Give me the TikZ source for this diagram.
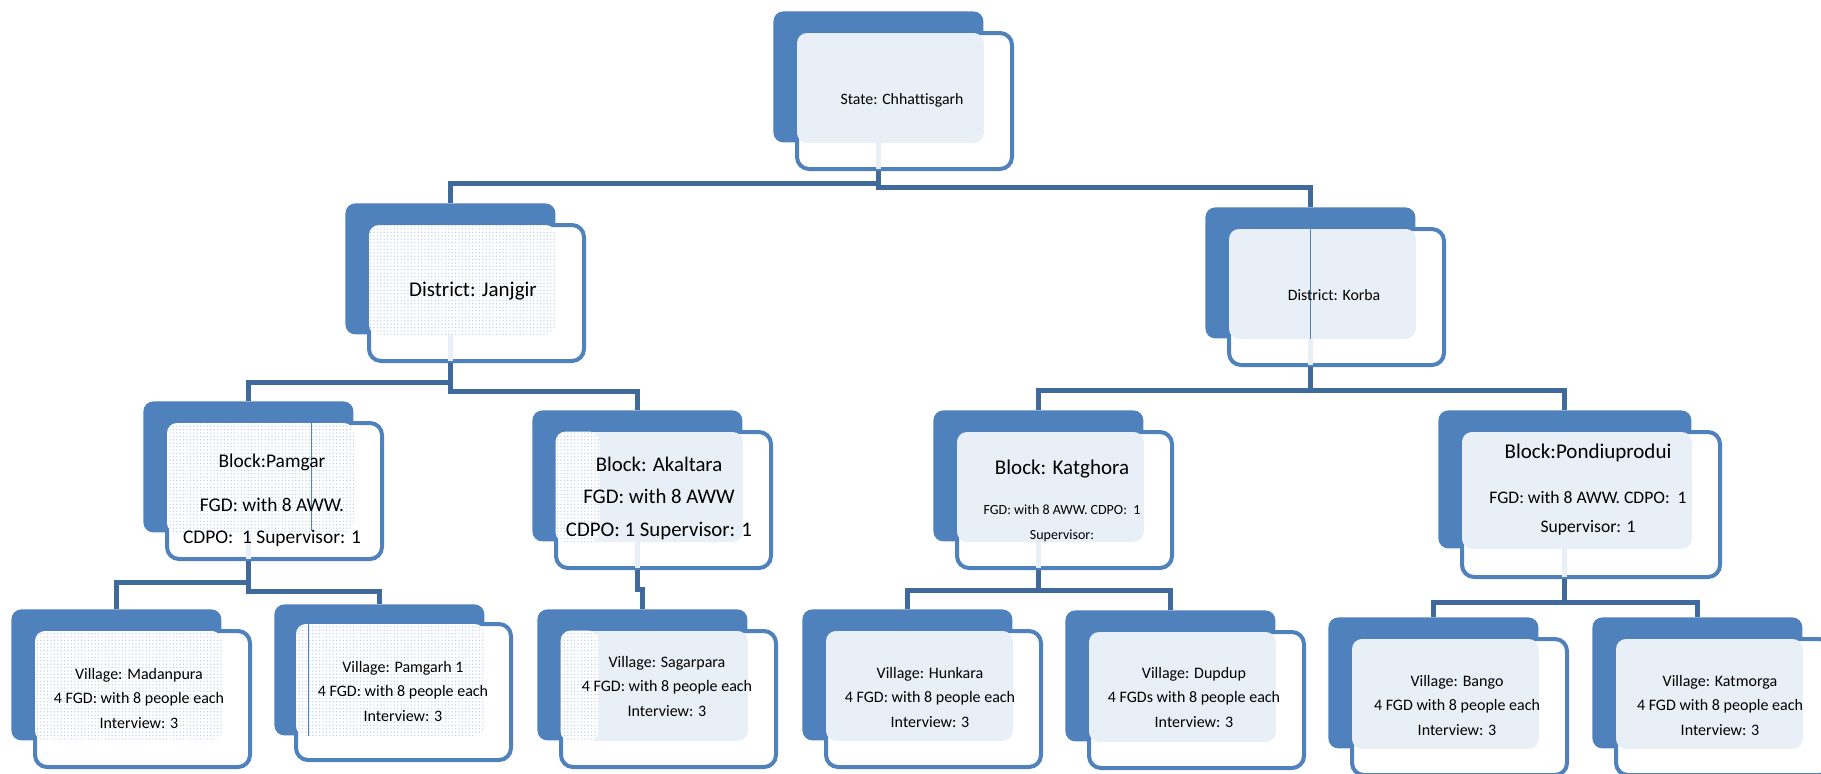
\documentclass[tikz,border=0pt]{standalone}
\usepackage{fontspec}
\setmainfont{Carlito}[Ligatures=NoCommon]
\usetikzlibrary{positioning,fit,patterns.meta}
\definecolor{orgblue}{HTML}{4F81BD}
\definecolor{linkblue}{HTML}{3F6A9B}
\definecolor{paleblue}{HTML}{E9EFF7}
\definecolor{dotblue}{HTML}{BDD0E8}
\tikzdeclarepattern{name=griddots, type=uncolored,
  bounding box={(-0.9pt,-0.9pt) and (0.9pt,0.9pt)}, tile size={(1.7pt,1.7pt)},
  code={\fill (0pt,0pt) circle (0.36pt);}}
\begin{document}
\begin{tikzpicture}[x=0.5pt, y=-0.5pt,
	backbox/.style={fill=orgblue, rounded corners=5pt, minimum width=105pt, minimum height=65.5pt, inner sep=0pt, anchor=north west},
	frontbox/.style={draw=orgblue, fill=white, line width=2pt, rounded corners=6pt, minimum width=107.5pt, minimum height=68pt, inner sep=0pt},
	palefill/.style={fill=paleblue, rounded corners=5pt, inner sep=0pt},
	dotfill/.style={preaction={fill=white}, pattern=griddots, pattern color=dotblue, rounded corners=5pt, inner sep=0pt},
	link/.style={draw=linkblue, line width=2.5pt},
	stub/.style={draw=paleblue, line width=2.5pt},
	hair/.style={draw=orgblue, line width=0.6pt},
	txt/.style={align=center, inner sep=0pt, text=black},
	village/.style={txt, font=\fontsize{8pt}{12.25pt}\selectfont}]
	\useasboundingbox (0,0) rectangle (1821,773);
	% state
	\node[backbox] (stB) at (773,11) {};
	\node[frontbox, below right=10pt and 11pt of stB.north west] (stF) {};
	\node[palefill, fit={([shift={(1pt,-1pt)}]stF.north west) (stB.south east)}] (stL) {};
	\draw[stub] (stB.south) -- ([yshift=1pt]stB.south |- stF.south);
	% districts
	\node[backbox] (jjB) at (345,203) {};
	\node[frontbox, below right=10pt and 11pt of jjB.north west] (jjF) {};
	\node[dotfill, fit={([shift={(1pt,-1pt)}]jjF.north west) (jjB.south east)}] (jjL) {};
	\draw[stub] (jjB.south) -- ([yshift=1pt]jjB.south |- jjF.south);
	\node[backbox] (kbB) at (1205,207) {};
	\node[frontbox, below right=10pt and 11pt of kbB.north west] (kbF) {};
	\node[palefill, fit={([shift={(1pt,-1pt)}]kbF.north west) (kbB.south east)}] (kbL) {};
	\draw[stub] (kbB.south) -- ([yshift=1pt]kbB.south |- kbF.south);
	\draw[hair] (kbB.center |- kbL.north) -- (kbB.south);
	% blocks
	\node[backbox] (pmB) at (143,401) {};
	\node[frontbox, below right=10pt and 11pt of pmB.north west] (pmF) {};
	\node[dotfill, fit={([shift={(1pt,-1pt)}]pmF.north west) (pmB.south east)}] (pmL) {};
	\draw[stub] (pmB.south) -- ([yshift=1pt]pmB.south |- pmF.south);
	\draw[hair] ([xshift=-21.5pt]pmL.north east) -- ([xshift=-21.5pt,yshift=1pt]pmL.south east);
	\node[backbox] (akB) at (532,410) {};
	\node[frontbox, below right=10pt and 11pt of akB.north west] (akF) {};
	\node[palefill, fit={([shift={(1pt,-1pt)}]akF.north west) (akB.south east)}] (akL) {};
	\node[dotfill, fit={(akL.north west) ([xshift=22pt]akL.south west)}] (akD) {};
	\draw[stub] (akB.south) -- ([yshift=1pt]akB.south |- akF.south);
	\node[backbox] (kgB) at (933,410) {};
	\node[frontbox, below right=10pt and 11pt of kgB.north west] (kgF) {};
	\node[palefill, fit={([shift={(1pt,-1pt)}]kgF.north west) (kgB.south east)}] (kgL) {};
	\draw[stub] (kgB.south) -- ([yshift=1pt]kgB.south |- kgF.south);
	\node[backbox, minimum width=126.5pt, minimum height=69pt] (pdB) at (1438,410) {};
	\node[frontbox, minimum width=129pt, minimum height=72.5pt, below right=10pt and 11pt of pdB.north west] (pdF) {};
	\node[palefill, fit={([shift={(1pt,-1pt)}]pdF.north west) (pdB.south east)}] (pdL) {};
	\draw[stub] (pdB.south) -- ([yshift=1pt]pdB.south |- pdF.south);
	% villages
	\node[backbox] (mpB) at (11,609) {};
	\node[frontbox, below right=10pt and 11pt of mpB.north west] (mpF) {};
	\node[dotfill, fit={([shift={(1pt,-1pt)}]mpF.north west) (mpB.south east)}] (mpL) {};
	\node[backbox] (p1B) at (274,604) {};
	\node[frontbox, below right=9pt and 10pt of p1B.north west] (p1F) {};
	\node[dotfill, fit={([shift={(1pt,-1pt)}]p1F.north west) (p1B.south east)}] (p1L) {};
	\draw[hair] ([xshift=6.5pt]p1L.north west) -- ([xshift=6.5pt]p1L.south west);
	\node[backbox] (sgB) at (537,609) {};
	\node[frontbox, below right=10pt and 11pt of sgB.north west] (sgF) {};
	\node[palefill, fit={([shift={(1pt,-1pt)}]sgF.north west) (sgB.south east)}] (sgL) {};
	\node[dotfill, fit={(sgL.north west) ([xshift=19pt]sgL.south west)}] (sgD) {};
	\node[backbox] (hkB) at (802,609) {};
	\node[frontbox, below right=10pt and 11pt of hkB.north west] (hkF) {};
	\node[palefill, fit={([shift={(1pt,-1pt)}]hkF.north west) (hkB.south east)}] (hkL) {};
	\node[backbox] (ddB) at (1065,610) {};
	\node[frontbox, below right=10pt and 11pt of ddB.north west] (ddF) {};
	\node[palefill, fit={([shift={(1pt,-1pt)}]ddF.north west) (ddB.south east)}] (ddL) {};
	\node[backbox] (bgB) at (1328,617) {};
	\node[frontbox, below right=10pt and 11pt of bgB.north west] (bgF) {};
	\node[palefill, fit={([shift={(1pt,-1pt)}]bgF.north west) (bgB.south east)}] (bgL) {};
	\node[backbox] (kmB) at (1592,617) {};
	\node[frontbox, below right=10pt and 11pt of kmB.north west] (kmF) {};
	\node[palefill, fit={([shift={(1pt,-1pt)}]kmF.north west) (kmB.south east)}] (kmL) {};
	% connectors
	\draw[link] (stB.south |- stF.south) -- ++(0,12) -| (jjB.north);
	\draw[link] (stB.south |- stF.south) -- ++(0,16) -| (kbB.north);
	\draw[link] (jjB.south |- jjF.south) -- ++(0,19) -| (pmB.north);
	\draw[link] (jjB.south |- jjF.south) -- ++(0,28) -| (akB.north);
	\draw[link] (kbB.south |- kbF.south) -- ++(0,23) -| (kgB.north);
	\draw[link] (kbB.south |- kbF.south) -- ++(0,23) -| (pdB.north);
	\draw[link] (pmB.south |- pmF.south) -- ++(0,21) -| (mpB.north);
	\draw[link] (pmB.south |- pmF.south) -- ++(0,30) -| (p1B.north);
	\draw[link] (akB.south |- akF.south) -- ++(0,19) -| (sgB.north);
	\draw[link] (kgB.south |- kgF.south) -- ++(0,20) -| (hkB.north);
	\draw[link] (kgB.south |- kgF.south) -- ++(0,20) -| (ddB.north);
	\draw[link] (pdB.south |- pdF.south) -- ++(0,23) -| (bgB.north);
	\draw[link] (pdB.south |- pdF.south) -- ++(0,23) -| (kmB.north);
	% texts
	\node[txt, font=\fontsize{7.9pt}{10pt}\selectfont] (st) at (902,100) {State: Chhattisgarh};
	\node[txt, font=\fontsize{10.5pt}{12pt}\selectfont] (jj) at (473,291) {District: Janjgir};
	\node[txt, font=\fontsize{7.9pt}{10pt}\selectfont] (kb) at (1334,295) {District: Korba};
	\node[txt, font=\fontsize{9.7pt}{16pt}\selectfont] (pm) at (272,500) {Block:Pamgar\\[6pt] FGD: with 8 AWW.\\ CDPO:~ 1 Supervisor: 1};
	\node[txt, font=\fontsize{10.4pt}{16.25pt}\selectfont] (ak) at (659,498) {Block: Akaltara\\ FGD: with 8 AWW\\ CDPO: 1 Supervisor: 1};
	\node[txt, font=\fontsize{7pt}{12.5pt}\selectfont] (kg) at (1062,501) {{\fontsize{10.5pt}{12.5pt}\selectfont Block: Katghora}\\[7.5pt] FGD: with 8 AWW. CDPO:~ 1\\ Supervisor:};
	\node[txt, font=\fontsize{8.8pt}{14.5pt}\selectfont] (pd) at (1588,490) {{\fontsize{10.5pt}{14.5pt}\selectfont Block:Pondiuprodui}\\[8pt] FGD: with 8 AWW. CDPO:~ 1\\ Supervisor: 1};
	\node[village] (mp) at (139,698) {Village: Madanpura\\ 4 FGD: with 8 people each\\ Interview: 3};
	\node[village] (p1) at (403,691) {Village: Pamgarh 1\\ 4 FGD: with 8 people each\\ Interview: 3};
	\node[village] (sg) at (667,686) {Village: Sagarpara\\ 4 FGD: with 8 people each\\ Interview: 3};
	\node[village] (hk) at (930,697) {Village: Hunkara\\ 4 FGD: with 8 people each\\ Interview: 3};
	\node[village] (dd) at (1194,697) {Village: Dupdup\\ 4 FGDs with 8 people each\\ Interview: 3};
	\node[village] (bg) at (1457,705) {Village: Bango\\ 4 FGD with 8 people each\\ Interview: 3};
	\node[village] (km) at (1720,705) {Village: Katmorga\\ 4 FGD with 8 people each\\ Interview: 3};
\end{tikzpicture}
\end{document}
